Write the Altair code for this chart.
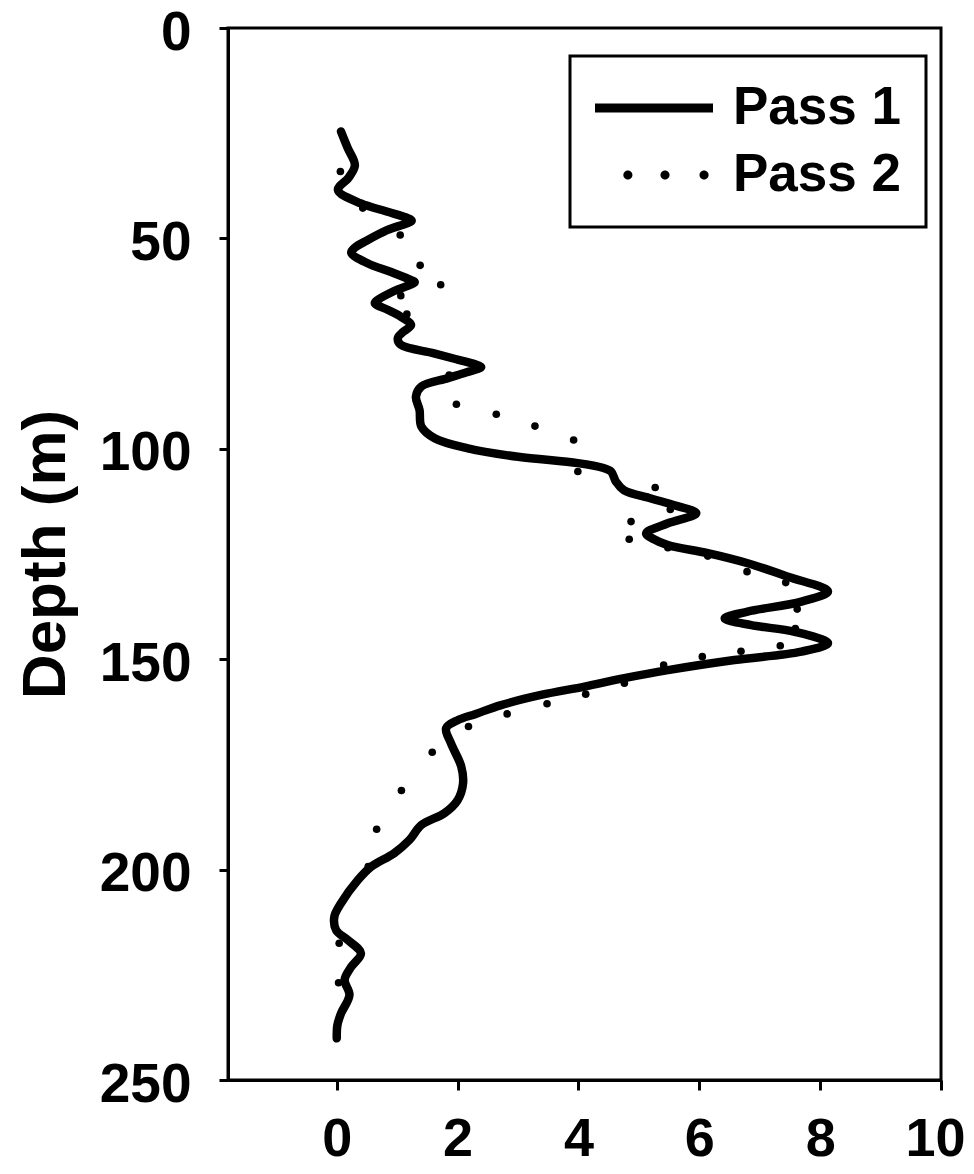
import math
import altair as alt
import pandas as pd

# ---- data ----
pass1_depth = [24.6, 28.5, 32.6, 35.5, 38.5, 41.7, 43.5, 45.2, 45.8, 48.0, 50.5, 52.2, 53.4,
               55.9, 58.0, 59.9, 60.4, 62.5, 64.6, 65.4, 67.0, 68.6, 70.6, 72.2, 73.7, 75.3,
               77.3, 78.8, 80.1, 80.6, 81.8, 83.2, 85.2, 87.6, 90.8, 94.7, 97.5, 99.9, 101.9,
               103.4, 104.5, 105.4, 107.8, 109.8, 111.8, 113.4, 115.3, 117.7, 120.1, 121.5,
               122.9, 124.8, 127.2, 130.4, 133.9, 136.3, 138.7, 140.3, 141.9, 143.5, 146.2,
               148.2, 150.2, 152.6, 154.5, 156.5, 158.5, 160.9, 163.0, 164.5, 166.4, 170.0,
               175.5, 179.5, 183.5, 186.6, 189.4, 193.0, 196.1, 199.3, 202.5, 208.0, 211.2,
               214.4, 216.7, 219.9, 223.1, 226.2, 229.8, 234.2, 237.0, 240.1]
pass1_value = [0.07, 0.18, 0.30, 0.20, 0.02, 0.40, 0.80, 1.18, 1.24, 0.84, 0.50, 0.30, 0.24,
               0.51, 0.90, 1.23, 1.29, 0.95, 0.68, 0.63, 0.85, 1.06, 1.23, 1.10, 1.01, 1.06,
               1.61, 2.00, 2.33, 2.39, 2.15, 1.84, 1.40, 1.31, 1.37, 1.40, 1.62, 2.17, 3.00,
               3.99, 4.40, 4.54, 4.62, 4.75, 5.20, 5.59, 5.95, 5.48, 5.12, 5.25,
               5.48, 6.14, 6.80, 7.47, 8.13, 7.69, 6.80, 6.42, 6.86, 7.58, 8.13,
               7.69, 6.58, 5.48, 4.76, 4.10, 3.38, 2.72, 2.30, 2.00, 1.81, 1.89,
               2.06, 2.09, 2.00, 1.78, 1.40, 1.20, 0.95, 0.57, 0.35, 0.07, -0.04,
               -0.01, 0.18, 0.40, 0.24, 0.13, 0.21, 0.07, 0.01, 0.00]

pass2_depth = [34.1, 42.8, 49.2, 56.4, 61.0, 63.6, 68.0, 82.5, 89.4, 91.8, 94.6, 97.9, 105.4,
               109.2, 114.4, 117.3, 121.5, 123.5, 125.5, 129.2, 131.8, 138.1, 142.7, 146.8,
               148.1, 149.4, 151.4, 155.7, 158.3, 160.6, 163.0, 166.0, 172.1, 181.2, 190.4,
               199.3, 217.5, 226.9]
pass2_value = [0.06, 0.43, 1.05, 1.38, 1.72, 1.06, 1.16, 1.86, 1.98, 2.64, 3.28, 3.92, 3.99,
               5.27, 5.52, 4.87, 4.84, 5.48, 6.14, 6.79, 7.43, 7.62, 7.59, 7.34,
               6.69, 6.05, 5.41, 4.76, 4.12, 3.48, 2.82, 2.18, 1.58, 1.07, 0.66,
               0.52, 0.04, 0.03]

series_names = ["Pass 1", "Pass 2"]
x_ticks = [0, 2, 4, 6, 8, 10]
y_ticks = [0, 50, 100, 150, 200, 250]
y_title = "Depth (m)"

df = pd.concat([
    pd.DataFrame({"depth": pass1_depth, "value": pass1_value, "series": series_names[0]}),
    pd.DataFrame({"depth": pass2_depth, "value": pass2_value, "series": series_names[1]}),
], ignore_index=True)

# ---- legend symbols (custom SVG paths in the unit square) ----
line_path = "M-1,-0.07L1,-0.07L1,0.07L-1,0.07Z"


def dot(cx, r=0.072, n=14):
    pts = [(cx + r * math.cos(2 * math.pi * k / n), r * math.sin(2 * math.pi * k / n)) for k in range(n)]
    return "M" + "L".join(f"{px:.4f},{py:.4f}" for px, py in pts) + "Z"


dots_path = "".join(dot(c) for c in [-0.94, -0.33, 0.25, 0.86])

FONT = "Liberation Sans"

x_enc = alt.X(
    "value:Q",
    scale=alt.Scale(domain=[-1.8, 10], nice=False, zero=False),
    axis=alt.Axis(values=x_ticks, title=None, grid=False, labelFlush=True, labelFlushOffset=24,
                  labelFont=FONT, labelFontSize=54, labelFontWeight="bold", labelColor="black",
                  labelPadding=22, tickSize=10, tickWidth=3, tickColor="black",
                  domainColor="black", domainWidth=3),
)
y_enc = alt.Y(
    "depth:Q",
    scale=alt.Scale(domain=[0, 250], reverse=True, nice=False, zero=False),
    axis=alt.Axis(values=y_ticks, title=y_title, grid=False,
                  labelFont=FONT, labelFontSize=55, labelFontWeight="bold", labelColor="black",
                  labelPadding=28, labelOffset=4, tickSize=9, tickWidth=3, tickColor="black",
                  domainColor="black", domainWidth=3,
                  titleFont=FONT, titleFontSize=62, titleFontWeight="bold", titleColor="black",
                  titleX=-183, titleY=526, titleAlign="center", titleBaseline="middle",
                  titleAngle=270),
)

base = alt.Chart(df)

line = base.transform_filter(alt.datum.series == series_names[0]).mark_line(
    color="black", strokeWidth=8.5, strokeCap="round", strokeJoin="round",
    interpolate="catmull-rom",
).encode(x=x_enc, y=y_enc, order="depth:Q")

dots = base.transform_filter(alt.datum.series == series_names[1]).mark_point(
    filled=True, color="black", size=58, opacity=1,
).encode(x=x_enc, y=y_enc)

legend_layer = base.mark_point(filled=True, color="black", opacity=0, size=16384).encode(
    x=x_enc, y=y_enc,
    shape=alt.Shape(
        "series:N",
        scale=alt.Scale(domain=series_names, range=[line_path, dots_path]),
        legend=alt.Legend(
            title=None, orient="none", legendX=342, legendY=28,
            padding=25, clipHeight=54, rowPadding=13,
            symbolSize=16384, symbolOffset=-10, labelOffset=20, labelLimit=400,
            symbolOpacity=1, symbolFillColor="black", symbolStrokeWidth=0,
            labelFont=FONT, labelFontSize=53, labelFontWeight="bold", labelColor="black",
            strokeColor="black", fillColor="white",
        ),
    ),
)

chart = alt.layer(line, dots, legend_layer).properties(
    width=713, height=1052,
    autosize=alt.AutoSizeParams(type="none"),
    padding={"left": 220, "top": 20, "right": 25, "bottom": 86},
    background="white",
).configure_view(stroke="black", strokeWidth=3).configure_legend(strokeWidth=3)

chart.save("out.html", embed_options={"renderer": "svg", "actions": False})
